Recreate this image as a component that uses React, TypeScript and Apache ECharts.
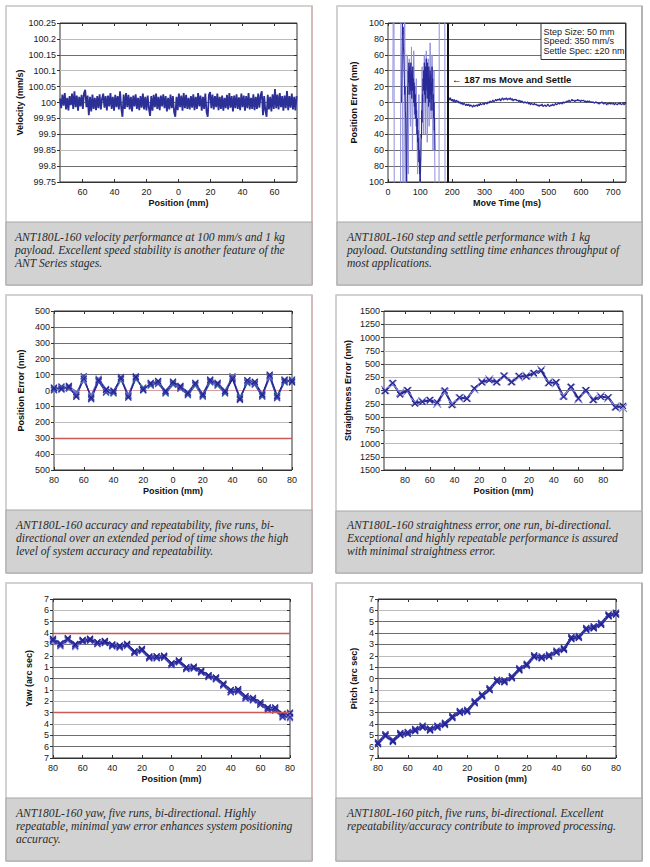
import React, { useEffect, useRef } from "react";
import * as echarts from "echarts";

// ---------------- data ----------------
// Panel 1: velocity (deviation from 100 mm/s, in 0.001 mm/s), sampled every 0.75 mm from -74 mm
const velocityStart = -74;
const velocityStep = 0.75;
const velocityDev = [
  12, -18, 25, -10, 30, -22, 15, -25, 20, -8, 28, -20, 35, -15, 22, -26, 18, -12,
  24, -20, 30, 40, -15, 22, -40, 18, -28, 25, -20, 15, -24, 20, -18, 26, -22, 12,
  28, -16, 20, -25, 22, -12, 30, -20, 18, -26, 24, -15, 20, -22, 35, -18, -45, 25,
  -20, 30, -15, 24, -22, 18, -28, 22, -12, 26, -20, 15, -24, 20, -16, 28, -22, 18,
  -25, 22, -18, -42, 20, -26, 24, -15, 28, -20, 18, -24, 22, -12, 26, -18, 20, -28,
  15, -22, 25, -18, 20, -30, -45, 18, -24, 28, -15, 22, -26, 30, -18, 24, -20, 15,
  -22, 20, -16, 26, -24, 18, -20, 30, -12, 22, -26, 18, -20, 28, -30, -45, 24, 33,
  -18, 25, -22, 20, -15, 28, -24, 18, -20, 22, -26, 15, -18, 24, -22, 30, -16, 20,
  -28, 22, -18, 26, -20, 16, -24, 28, -15, 22, -26, 20, -18, 30, -22, 15, -20, 26,
  -24, 18, -20, 28, -16, 22, 35, -40, 20, -26, -45, 24, -22, 18, -28, 26, -20, 42,
  -18, 25, -22, 30, -15, 20, -26, 22, -18, 36, -24, 20, -16, 28, -22, 18, -25, 20,
];
const velocityTicks = [-60, -40, -20, 0, 20, 40, 60];

// Panel 2: step and settle
const rawTimes = [12, 15, 18, 20, 38, 41, 44, 47, 52, 56, 60, 63, 66, 70, 73, 76, 80, 84, 88, 92, 96, 99, 103, 106, 110, 113, 116, 119, 122, 125, 128, 131, 134, 137, 140, 143, 146, 150, 158, 160, 176, 178];
const rawValues = [0, 0, 300, -300, -300, 300, 300, -300, 120, -300, 60, -90, 55, -30, 70, -60, 65, -20, 30, -90, 10, -110, -70, 45, -40, 60, -40, 65, -50, 55, -30, 75, -20, 60, -60, 40, -100, -300, -300, 300, 300, -300];
const preStart = 42; // ms, 1 ms per sample
const preValues = [
  0, 30, 70, 100, 85, 95, 70, 60, 40,
  30, 10, 20, -10, -20, -50, -80, -100, -40, 0,
  20, 10, 40, 25, 50, 20, 45, 10, 35, 15,
  50, 20, 40, 5, 35, 15, 45, 20, 30, 0,
  25, -5, 20, -15, 10, -20, 0, -30, -10, -40,
  -20, -50, -35, -60, -45, -75, -60, -90, -70, -100,
  -80, -60, -40, -45, -10, -25, 10, 0, 30, 15,
  40, 20, 50, 10, 35, 0, 45, 15, 55, 20,
  40, 5, 50, 15, 35, -5, 45, 10, 30, 0,
  40, 10, 35, -10, 25, 5, 45, 15, 30, -10,
  10, -20, 0, -35, -20, -60,
];
const settleStart = 188; // ms, 3 ms per sample
const settleStep = 3;
const settleValues = [
  7, 3, 6, 2, 4, 1, 4, 0, 3, 1,
  2, -1, 1, -2, 0, -3, -1, -2, -4, -2,
  -4, -2, -5, -3, -4, -6, -3, -5, -4, -3,
  -5, -2, -4, -1, -3, -2, -1, -3, 0, -1,
  -2, 1, -1, 2, 0, 1, 3, 1, 2, 4,
  2, 4, 3, 5, 2, 4, 6, 3, 5, 4,
  6, 3, 5, 4, 6, 3, 5, 2, 4, 3,
  4, 2, 3, 1, 3, 0, 2, 1, -1, 1,
  0, -1, 1, -2, 0, -3, -1, -2, -3, -1,
  -3, -2, -4, -3, -5, -3, -4, -2, -5, -4,
  -3, -5, -4, -2, -4, -5, -3, -4, -2, -4,
  -3, -1, -3, -2, 0, -2, -1, 0, -2, 1,
  -1, 1, 0, 2, 1, 3, 1, 2, 4, 2,
  3, 1, 3, 2, 4, 2, 3, 1, 3, 2,
  3, 1, 2, 0, 2, 1, 2, 0, 1, 0,
  1, -1, 0, 1, -1, 0, -2, 0, -1, 1,
  -1, -2, 0, -1, -3, -1, -2, 0, -2, -1,
  -2, -1, -3, -1, -2, -3, -1, -2, 0, -3,
  -2, -1, -3, -1, -2,
];
const settleTimeMs = 187;
const moveTimeTicks = [0, 100, 200, 300, 400, 500, 600, 700];
const stepInfo = ["Step Size: 50 mm", "Speed: 350 mm/s", "Settle Spec: \u00b120 nm"];
const settleNote = "\u2190 187 ms Move and Settle";

// Panel 3: accuracy, five runs
const accPositions = [-80, -75, -70, -65, -60, -55, -50, -45, -40, -35, -30, -25, -20, -15, -10, -5, 0, 5, 10, 15, 20, 25, 30, 35, 40, 45, 50, 55, 60, 65, 70, 75, 80];
const accRun1 = [10, 15, 20, -35, 85, -50, 70, 0, -10, 80, -40, 80, 10, 40, 50, -10, 45, 20, -20, 40, -30, 60, 40, -10, 85, -50, 55, 45, -30, 95, -40, 60, 60];
const accRun2 = [0, 20, 10, -20, 70, -40, 60, -15, -20, 65, -30, 70, 20, 30, 55, -20, 35, 10, -30, 30, -40, 50, 30, -20, 75, -40, 45, 35, -40, 85, -30, 50, 70];
const accRun3 = [20, 5, 30, -10, 60, -30, 75, 10, 0, 70, -25, 90, 0, 50, 40, 0, 50, 30, -10, 50, -20, 70, 50, 0, 90, -60, 60, 50, -20, 80, -50, 70, 50];
const accRun4 = [5, 25, 15, -30, 90, -55, 55, -10, -15, 85, -35, 75, 15, 35, 45, -15, 40, 15, -25, 35, -35, 55, 35, -15, 80, -45, 50, 40, -35, 90, -45, 55, 65];
const accRun5 = [15, 10, 25, -40, 75, -45, 65, 5, -5, 75, -45, 85, 5, 45, 60, -5, 55, 25, -15, 45, -25, 65, 45, -5, 70, -55, 65, 55, -25, 100, -35, 65, 55];
const accLimitLine = -300;

// Panel 4: straightness, one run bi-directional
const strPositions = [-96, -90, -84, -78, -72, -66, -60, -54, -48, -42, -36, -30, -24, -18, -12, -6, 0, 6, 12, 18, 24, 30, 36, 42, 48, 54, 60, 66, 72, 78, 84, 90, 96];
const strForward = [-10, 145, -75, 5, -245, -215, -180, -225, 0, -275, -130, -155, 40, 155, 195, 155, 280, 155, 275, 265, 330, 375, 140, 155, -120, 70, -150, 5, -180, -120, -130, -320, -290];
const strReverse = [10, 120, -40, -10, -220, -200, -195, -250, -30, -250, -150, -140, 20, 170, 210, 170, 265, 175, 255, 280, 310, 390, 155, 140, -95, 50, -165, -10, -160, -105, -145, -300, -330];
const strTicks = [-80, -60, -40, -20, 0, 20, 40, 60, 80];

// Panel 5: yaw, five runs
const yawRun1 = [3.45, 3.05, 3.55, 3.0, 3.4, 3.5, 3.2, 3.3, 3.0, 2.9, 3.05, 2.4, 2.6, 1.95, 1.95, 2.0, 1.35, 1.6, 1.0, 1.05, 0.7, 0.3, 0.1, -0.45, -1.0, -0.95, -1.55, -1.7, -2.1, -2.55, -2.55, -3.1, -3.0];
const yawRun2 = [3.3, 2.9, 3.4, 2.85, 3.25, 3.35, 3.05, 3.15, 2.85, 2.75, 2.9, 2.25, 2.45, 1.8, 1.8, 1.85, 1.2, 1.45, 0.85, 0.9, 0.55, 0.15, -0.05, -0.6, -1.2, -1.15, -1.75, -1.9, -2.3, -2.75, -2.8, -3.4, -3.4];
const yawRun3 = [3.5, 3.1, 3.45, 3.05, 3.3, 3.4, 3.2, 3.2, 2.9, 2.9, 2.95, 2.3, 2.5, 1.85, 1.95, 1.9, 1.25, 1.5, 0.9, 0.95, 0.6, 0.2, 0.0, -0.55, -1.15, -1.1, -1.7, -1.85, -2.25, -2.7, -2.7, -3.3, -3.1];
const yawRun4 = [3.35, 2.95, 3.5, 2.9, 3.35, 3.45, 3.1, 3.25, 2.95, 2.8, 3.0, 2.35, 2.55, 1.9, 1.85, 1.95, 1.3, 1.55, 0.95, 1.0, 0.65, 0.25, 0.05, -0.5, -1.05, -1.05, -1.6, -1.8, -2.15, -2.6, -2.65, -3.2, -3.5];
const yawRun5 = [3.2, 2.8, 3.3, 2.75, 3.2, 3.3, 3.0, 3.1, 2.8, 2.7, 2.85, 2.2, 2.4, 1.75, 1.75, 1.8, 1.15, 1.4, 0.8, 0.85, 0.5, 0.1, -0.1, -0.65, -1.25, -1.2, -1.8, -1.95, -2.35, -2.8, -2.85, -3.45, -3.3];
const yawLimitLines = [4, -3];

// Panel 6: pitch, five runs
const pitchRun1 = [-5.75, -5.05, -5.55, -4.95, -4.85, -4.6, -4.3, -4.55, -4.3, -4.05, -3.45, -3.0, -2.9, -2.15, -1.55, -1.0, -0.25, -0.3, 0.05, 0.75, 1.15, 1.9, 1.8, 1.95, 2.3, 2.55, 3.5, 3.6, 4.3, 4.45, 4.75, 5.5, 5.65];
const pitchRun2 = [-5.6, -4.9, -5.4, -4.8, -4.7, -4.45, -4.15, -4.4, -4.15, -3.9, -3.3, -2.85, -2.75, -2.0, -1.4, -0.85, -0.1, -0.15, 0.2, 0.9, 1.3, 2.05, 1.95, 2.1, 2.45, 2.7, 3.65, 3.75, 4.45, 4.6, 4.9, 5.65, 5.8];
const pitchRun3 = [-5.7, -5.0, -5.5, -4.9, -4.75, -4.55, -4.25, -4.5, -4.2, -4.0, -3.4, -2.95, -2.85, -2.1, -1.5, -0.95, -0.2, -0.25, 0.1, 0.8, 1.2, 1.95, 1.85, 2.0, 2.35, 2.6, 3.55, 3.65, 4.35, 4.5, 4.8, 5.55, 5.7];
const pitchRun4 = [-5.8, -5.1, -5.6, -5.0, -4.9, -4.65, -4.35, -4.6, -4.35, -4.1, -3.5, -3.05, -2.95, -2.2, -1.6, -1.05, -0.3, -0.35, 0.0, 0.7, 1.1, 1.85, 1.75, 1.9, 2.25, 2.5, 3.45, 3.55, 4.25, 4.4, 4.7, 5.45, 5.6];
const pitchRun5 = [-5.65, -4.95, -5.45, -4.85, -4.8, -4.5, -4.2, -4.45, -4.25, -3.95, -3.35, -2.9, -2.8, -2.05, -1.45, -0.9, -0.15, -0.2, 0.15, 0.85, 1.25, 2.0, 1.9, 2.05, 2.4, 2.65, 3.6, 3.7, 4.4, 4.55, 4.85, 5.6, 5.75];

// Captions
const caption1 = ["ANT180L-160 velocity performance at 100 mm/s and 1 kg", "payload. Excellent speed stability is another feature of the", "ANT Series stages."];
const caption2 = ["ANT180L-160 step and settle performance with 1 kg", "payload. Outstanding settling time enhances throughput of", "most applications."];
const caption3 = ["ANT180L-160 accuracy and repeatability, five runs, bi-", "directional over an extended period of time shows the high", "level of system accuracy and repeatability."];
const caption4 = ["ANT180L-160 straightness error, one run, bi-directional.", "Exceptional and highly repeatable performance is assured", "with minimal straightness error."];
const caption5 = ["ANT180L-160 yaw, five runs, bi-directional. Highly", "repeatable, minimal yaw error enhances system positioning", "accuracy."];
const caption6 = ["ANT180L-160 pitch, five runs, bi-directional. Excellent", "repeatability/accuracy contribute to improved processing."];

// ---------------- styling / layout ----------------
const SANS = '"Liberation Sans", Arial, sans-serif';
const SERIF = '"Liberation Serif", "Times New Roman", serif';
const D = "#6e6e6e"; // dark grid line
const L = "#bcbcbc"; // light grid line
const B = "#333333"; // border
const RED = "#c85a5a";
const X_SYMBOL = "path://M0,0L10,10M10,0L0,10";
const runColors = ["#a0a0e4", "#7878d0", "#5050bc", "#3434a4", "#20208c"];
const accColors = ["#9c9ce0", "#4a8f9e", "#6a6ac8", "#3d3db0", "#23238e"];

const absFmt = (v: number) => String(Math.abs(Math.round(v * 100) / 100));
const decFmt = (v: number) => String(parseFloat(v.toFixed(2)));

type Panel = {
  grid: { left: number; top: number; width: number; height: number };
  xMin: number; xMax: number; xInterval?: number; xTicks?: number[]; xName: string;
  yMin: number; yMax: number; yInterval: number; yFmt: (v: number) => string;
  yName: string; yGap: number; yColors: string[];
};

const panels: Panel[] = [
  {
    grid: { left: 60, top: 23, width: 237, height: 159 },
    xMin: -74, xMax: 74, xTicks: velocityTicks, xName: "Position (mm)",
    yMin: 99.75, yMax: 100.25, yInterval: 0.05, yFmt: decFmt,
    yName: "Velocity (mm/s)", yGap: 36,
    yColors: [B, D, L, D, L, D, L, L, D, L, B],
  },
  {
    grid: { left: 388, top: 23, width: 238, height: 159 },
    xMin: 0, xMax: 740, xTicks: moveTimeTicks, xName: "Move Time (ms)",
    yMin: -100, yMax: 100, yInterval: 20, yFmt: absFmt,
    yName: "Position Error (nm)", yGap: 30,
    yColors: [B, D, D, D, D, D, D, D, D, D, B],
  },
  {
    grid: { left: 54, top: 311, width: 238, height: 159 },
    xMin: -80, xMax: 80, xInterval: 20, xName: "Position (mm)",
    yMin: -500, yMax: 500, yInterval: 100, yFmt: absFmt,
    yName: "Position Error (nm)", yGap: 29,
    yColors: [B, L, L, L, D, "#d4a0a0", D, D, D, D, B],
  },
  {
    grid: { left: 384, top: 311, width: 239, height: 159 },
    xMin: -97, xMax: 96, xTicks: strTicks, xName: "Position (mm)",
    yMin: -1500, yMax: 1500, yInterval: 250, yFmt: absFmt,
    yName: "Straightness Error (nm)", yGap: 32,
    yColors: [B, D, L, L, D, D, D, L, D, L, D, D, B],
  },
  {
    grid: { left: 53, top: 599, width: 237, height: 159 },
    xMin: -80, xMax: 80, xInterval: 20, xName: "Position (mm)",
    yMin: -7, yMax: 7, yInterval: 1, yFmt: absFmt,
    yName: "Yaw (arc sec)", yGap: 20,
    yColors: [B, D, D, L, L, L, L, D, D, L, D, L, D, L, B],
  },
  {
    grid: { left: 378, top: 599, width: 238, height: 159 },
    xMin: -80, xMax: 80, xInterval: 20, xName: "Position (mm)",
    yMin: -7, yMax: 7, yInterval: 1, yFmt: absFmt,
    yName: "Pitch (arc sec)", yGap: 20,
    yColors: [B, L, D, D, D, L, L, D, D, L, D, D, D, L, B],
  },
];

const boxes = [
  { x: 6, y: 6, w: 306, h: 279, capY: 222, tx: 15, ty: 237, lines: caption1, side: "#d9a9a9" },
  { x: 337, y: 6, w: 305, h: 279, capY: 222, tx: 347, ty: 237, lines: caption2, side: "#a0a0a0" },
  { x: 6, y: 295, w: 306, h: 278, capY: 510, tx: 16, ty: 525, lines: caption3, side: "#d9a9a9" },
  { x: 336, y: 295, w: 306, h: 278, capY: 511, tx: 347, ty: 525, lines: caption4, side: "#a0a0a0" },
  { x: 6, y: 583, w: 306, h: 278, capY: 798, tx: 16, ty: 813, lines: caption5, side: "#d9a9a9" },
  { x: 336, y: 583, w: 306, h: 278, capY: 798, tx: 347, ty: 813, lines: caption6, side: "#a0a0a0" },
];

const redLines = (values: number[]) => ({
  silent: true, symbol: ["none", "none"], label: { show: false },
  lineStyle: { color: RED, width: 1.3, type: "solid" },
  emphasis: { disabled: true },
  data: values.map((v) => ({ yAxis: v })),
});

function buildOption() {
  const grid: any[] = [];
  const xAxis: any[] = [];
  const yAxis: any[] = [];
  panels.forEach((p, k) => {
    grid.push({
      ...p.grid, show: true, borderColor: B, borderWidth: 1,
      backgroundColor: "transparent", containLabel: false, outerBoundsMode: "none",
    });
    const xCommon = {
      type: "value", gridIndex: k, min: p.xMin, max: p.xMax, interval: p.xInterval,
      axisLine: { show: false, onZero: false }, splitLine: { show: false },
    };
    xAxis.push({
      ...xCommon, position: "bottom",
      name: p.xName, nameLocation: "middle", nameGap: 16, nameMoveOverlap: false,
      nameTextStyle: { fontFamily: SANS, fontWeight: "bold", fontSize: 9, color: "#111" },
      axisTick: { show: true, inside: true, length: 3, lineStyle: { color: B }, customValues: p.xTicks },
      axisLabel: {
        show: true, margin: 5, fontFamily: SANS, fontSize: 9, color: "#1a1a1a",
        formatter: absFmt, customValues: p.xTicks, hideOverlap: false,
      },
    });
    xAxis.push({
      ...xCommon, position: "top",
      axisTick: { show: true, inside: true, length: 3, lineStyle: { color: B }, customValues: p.xTicks },
      axisLabel: { show: false, customValues: p.xTicks },
    });
    const yCommon = {
      type: "value", gridIndex: k, min: p.yMin, max: p.yMax, interval: p.yInterval,
      axisLine: { show: false, onZero: false },
    };
    yAxis.push({
      ...yCommon, position: "left",
      name: p.yName, nameLocation: "middle", nameGap: p.yGap, nameMoveOverlap: false,
      nameTextStyle: { fontFamily: SANS, fontWeight: "bold", fontSize: 9, color: "#111" },
      axisTick: { show: true, inside: false, length: 3, lineStyle: { color: B } },
      axisLabel: { show: true, margin: 4, fontFamily: SANS, fontSize: 9, color: "#1a1a1a", formatter: p.yFmt, hideOverlap: false },
      splitLine: { show: true, lineStyle: { color: p.yColors, width: 1 } },
    });
    yAxis.push({
      ...yCommon, position: "right",
      axisTick: { show: true, inside: true, length: 3, lineStyle: { color: B } },
      axisLabel: { show: false },
      splitLine: { show: false },
    });
  });

  const series: any[] = [];
  const lineSeries = (k: number, data: number[][], color: string, width: number, extra: any = {}) => ({
    type: "line", xAxisIndex: 2 * k, yAxisIndex: 2 * k, data, silent: true,
    symbol: "none", showSymbol: false, clip: true,
    lineStyle: { color, width }, itemStyle: { color },
    ...extra,
  });
  const markerSeries = (k: number, xs: number[], ys: number[], color: string, size: number, width: number, extra: any = {}) => ({
    type: "line", xAxisIndex: 2 * k, yAxisIndex: 2 * k, silent: true,
    data: xs.map((x, i) => [x, ys[i]]),
    symbol: X_SYMBOL, symbolSize: size, showSymbol: true, showAllSymbol: true,
    lineStyle: { color, width },
    itemStyle: { color, borderColor: color, borderWidth: 1.2 },
    ...extra,
  });

  // Panel 1
  series.push(lineSeries(0, velocityDev.map((d, i) => [velocityStart + i * velocityStep, 100 + d / 1000]), "#2b2f96", 1.8));
  // Panel 2
  series.push(lineSeries(1, rawTimes.map((t, i) => [t, rawValues[i]]), "#9090dc", 1));
  series.push(lineSeries(1, preValues.map((v, i) => [preStart + i, v]), "#2a2a98", 1));
  series.push(lineSeries(1, settleValues.map((v, i) => [settleStart + i * settleStep, v]), "#2a2a98", 1.2, {
    markLine: {
      silent: true, symbol: ["none", "none"], label: { show: false },
      lineStyle: { color: "#111", width: 2, type: "solid" },
      emphasis: { disabled: true },
      data: [{ xAxis: settleTimeMs }],
    },
  }));
  // Panel 3
  [accRun1, accRun2, accRun3, accRun4, accRun5].forEach((r, i) =>
    series.push(markerSeries(2, accPositions, r, accColors[i], 6, 1.2, i === 0 ? { markLine: redLines([accLimitLine]) } : {})));
  // Panel 4
  series.push(markerSeries(3, strPositions, strReverse, "#8c8cdc", 8, 1.4));
  series.push(markerSeries(3, strPositions, strForward, "#262690", 6, 2));
  // Panel 5
  [yawRun5, yawRun4, yawRun3, yawRun2, yawRun1].forEach((r, i) =>
    series.push(markerSeries(4, accPositions, r, runColors[i], 6, 1.5, i === 0 ? { markLine: redLines(yawLimitLines) } : {})));
  // Panel 6
  [pitchRun5, pitchRun4, pitchRun3, pitchRun2, pitchRun1].forEach((r, i) =>
    series.push(markerSeries(5, accPositions, r, runColors[i], 6, 1.5)));

  // Graphics: panel frames, captions, legend box, annotation
  const elements: any[] = [];
  boxes.forEach((b) => {
    elements.push({
      type: "rect", z: 0, silent: true,
      shape: { x: b.x, y: b.y, width: b.w, height: b.h },
      style: { fill: "none", stroke: "#c4c4c4", lineWidth: 1.5 },
    });
    elements.push({
      type: "line", z: 1, silent: true,
      shape: { x1: b.x + b.w, y1: b.y, x2: b.x + b.w, y2: b.y + b.h },
      style: { stroke: b.side, lineWidth: 1.2 },
    });
    elements.push({
      type: "rect", z: 1, silent: true,
      shape: { x: b.x, y: b.capY, width: b.w, height: b.y + b.h - b.capY },
      style: { fill: "#d2d2d2", stroke: "#a6a6a6", lineWidth: 1 },
    });
    b.lines.forEach((line, i) => {
      elements.push({
        type: "text", z: 2, silent: true,
        style: {
          text: line, x: b.tx, y: b.ty + i * 13.2,
          fill: "#2a2a2a", fontFamily: SERIF, fontStyle: "italic", fontSize: 11.6,
          align: "left", verticalAlign: "middle", textAlign: "left", textVerticalAlign: "middle",
        },
      });
    });
  });
  elements.push({
    type: "rect", z: 50, silent: true,
    shape: { x: 541, y: 23.5, width: 84.5, height: 36 },
    style: { fill: "#ffffff", stroke: "#333", lineWidth: 1 },
  });
  stepInfo.forEach((s, i) => {
    elements.push({
      type: "text", z: 51, silent: true,
      style: {
        text: s, x: 543.5, y: 31.5 + i * 9.6, fill: "#1a1a1a",
        fontFamily: SANS, fontSize: 9,
        align: "left", verticalAlign: "middle", textAlign: "left", textVerticalAlign: "middle",
      },
    });
  });
  elements.push({
    type: "text", z: 51, silent: true,
    style: {
      text: settleNote, x: 452, y: 79, fill: "#111",
      fontFamily: SANS, fontSize: 9.5, fontWeight: "bold",
      align: "left", verticalAlign: "middle", textAlign: "left", textVerticalAlign: "middle",
    },
  });

  return {
    animation: false,
    backgroundColor: "#ffffff",
    grid, xAxis, yAxis, series,
    graphic: { elements },
  };
}

export default function App() {
  const ref = useRef<HTMLDivElement>(null);
  useEffect(() => {
    if (!ref.current) return;
    const chart = echarts.init(ref.current, undefined, { renderer: "svg" });
    chart.setOption(buildOption() as any);
    return () => chart.dispose();
  }, []);
  return (
    <div
      ref={ref}
      style={{ position: "absolute", left: 0, top: 0, width: 650, height: 867, background: "#fff" }}
    />
  );
}
